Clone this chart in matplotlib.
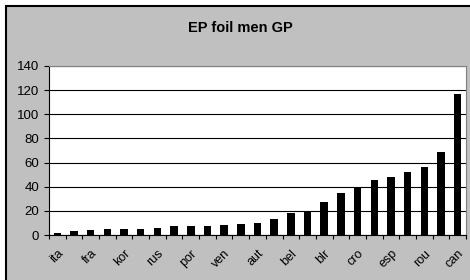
import matplotlib
matplotlib.use("Agg")
import matplotlib.pyplot as plt
from matplotlib.patches import Rectangle

countries = ["ita", "", "fra", "", "kor", "", "rus", "", "por", "", "ven", "", "aut", "",
             "bel", "", "blr", "", "cro", "", "esp", "", "rou", "", "can"]
values = [2, 3, 4, 5, 5, 5, 6, 7.5, 7.5, 7.5, 8.5, 9, 10, 13, 18, 20, 27.5, 35, 40,
          45.5, 48, 52.5, 56.5, 69, 117]
yticks = [0, 20, 40, 60, 80, 100, 120, 140]
title = "EP foil men GP"

W, H = 470, 280
fig = plt.figure(figsize=(W / 100, H / 100), dpi=100)
fig.patch.set_facecolor("white")
# gray chart area with black border on top/left
bg = Rectangle((6 / W, -0.1), 1.2, (H - 6) / H + 0.1, transform=fig.transFigure,
               facecolor="#C0C0C0", edgecolor="black", linewidth=1.5, zorder=-10)
fig.patches.append(bg)

left, right, top, bottom = 49, 466, 66, 235
ax = fig.add_axes([left / W, 1 - bottom / H, (right - left) / W, (bottom - top) / H])
ax.set_zorder(5)
ax.set_facecolor("white")

x = list(range(len(values)))
ax.bar(x, values, width=0.45, color="black", zorder=3)
ax.set_xlim(-0.5, len(values) - 0.5)
ax.set_ylim(0, 140)
ax.set_yticks(yticks)
ax.set_yticklabels([str(v) for v in yticks], fontsize=9.5, family="Liberation Sans")
ax.yaxis.grid(True, color="black", linewidth=0.8, zorder=1)
ax.set_axisbelow(True)

ax.set_xticks(x)
ax.set_xticklabels(countries, rotation=45, ha="right", va="top", rotation_mode="anchor",
                   fontsize=9, family="Liberation Sans")
ax.tick_params(axis="x", length=0, pad=9)
ax.set_xticks([i - 0.5 for i in range(len(values) + 1)], minor=True)
ax.tick_params(axis="x", which="minor", length=3, direction="out", width=0.8)
ax.tick_params(axis="y", length=3.6, direction="out", width=0.8, pad=3.5)

for s in ["top", "right"]:
    ax.spines[s].set_color("#808080")
for s in ["left", "bottom"]:
    ax.spines[s].set_color("black")
for s in ax.spines.values():
    s.set_linewidth(0.8)

fig.text(240 / W, 1 - 28 / H, title, ha="center", va="center", fontsize=10.5,
         fontweight="bold", family="Liberation Sans")

fig.savefig("out.png", dpi=100, facecolor=fig.get_facecolor())
